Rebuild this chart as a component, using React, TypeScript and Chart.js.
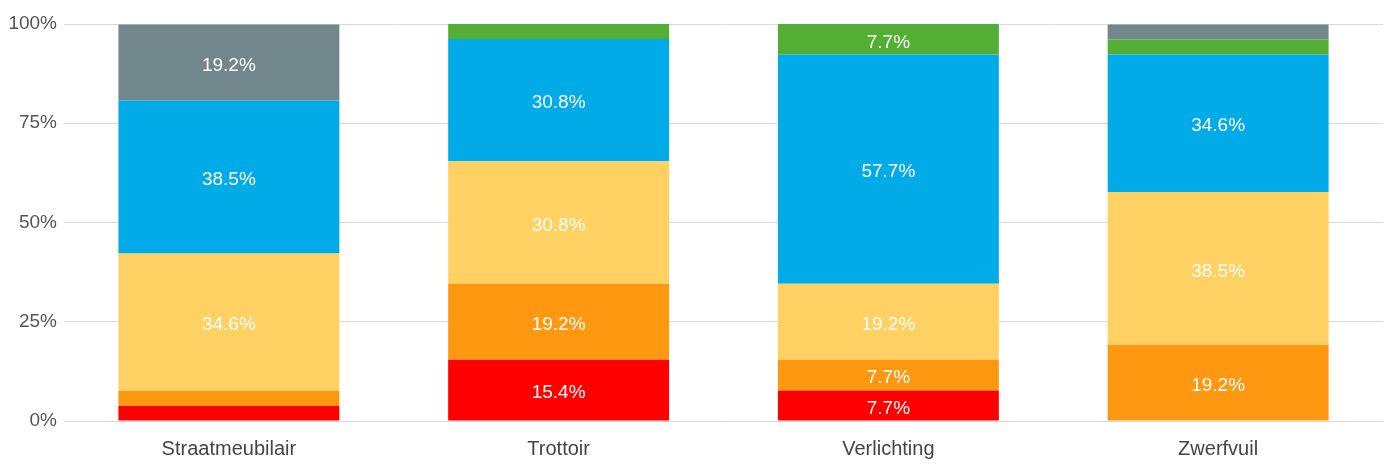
import React, { useEffect, useRef } from "react";
import { Chart, registerables } from "chart.js";

Chart.register(...registerables);

const categories = ["Straatmeubilair", "Trottoir", "Verlichting", "Zwerfvuil"];
const seriesNames = ["Zeer ontevreden", "Ontevreden", "Neutraal", "Tevreden", "Zeer tevreden", "Geen mening"];
const red = [3.8, 15.4, 7.7, 0];
const orange = [3.8, 19.2, 7.7, 19.2];
const yellow = [34.6, 30.8, 19.2, 38.5];
const blue = [38.5, 30.8, 57.7, 34.6];
const green = [0, 3.8, 7.7, 3.8];
const gray = [19.2, 0, 0, 3.8];
const colors = ["#FF0000", "#FF9811", "#FFD162", "#00ABE8", "#53AF33", "#72878B"];
const yTicks = [0, 25, 50, 75, 100];

const FONT = "'Liberation Sans', Arial, sans-serif";

const labelPlugin = {
  id: "barLabels",
  afterDatasetsDraw(chart: any) {
    const ctx = chart.ctx;
    ctx.save();
    ctx.font = `19px ${FONT}`;
    ctx.fillStyle = "#ffffff";
    ctx.textAlign = "center";
    ctx.textBaseline = "middle";
    chart.data.datasets.forEach((ds: any, di: number) => {
      const meta = chart.getDatasetMeta(di);
      meta.data.forEach((el: any, i: number) => {
        const v = ds.data[i];
        if (v >= 5) {
          const y = (el.y + el.base) / 2;
          ctx.fillText(v.toFixed(1) + "%", el.x, y + 3);
        }
      });
    });
    ctx.restore();
  },
};

export default function App() {
  const ref = useRef<HTMLCanvasElement>(null);
  useEffect(() => {
    if (!ref.current) return;
    const series = [red, orange, yellow, blue, green, gray];
    const chart = new Chart(ref.current, {
      type: "bar",
      data: {
        labels: categories,
        datasets: series.map((d, i) => ({
          label: seriesNames[i],
          data: d,
          backgroundColor: colors[i],
          borderWidth: 0,
          categoryPercentage: 1,
          barPercentage: 0.67,
        })),
      },
      options: {
        animation: false,
        responsive: false,
        maintainAspectRatio: false,
        layout: { padding: { top: 24, right: 8, left: 0, bottom: 0 } },
        plugins: { legend: { display: false }, tooltip: { enabled: false } },
        scales: {
          x: {
            stacked: true,
            grid: { display: false, drawTicks: false },
            border: { display: false },
            ticks: { color: "#444", font: { family: FONT, size: 20 }, padding: 16 },
            afterFit: (s: any) => { s.height = 43; },
          },
          y: {
            stacked: true,
            min: 0,
            max: 100,
            afterBuildTicks: (s: any) => { s.ticks = yTicks.map((v) => ({ value: v })); },
            grid: { color: "#d9d9d9", drawTicks: false, lineWidth: 1 },
            border: { display: false },
            ticks: {
              color: "#555",
              font: { family: FONT, size: 19 },
              padding: 7,
              callback: (v: any) => v + "%",
            },
            afterFit: (s: any) => { s.width = 64; },
          },
        },
      },
      plugins: [labelPlugin],
    });
    return () => chart.destroy();
  }, []);
  return (
    <div style={{ position: "fixed", left: 0, top: 0, width: 1391, height: 464, background: "#fff" }}>
      <canvas ref={ref} width={1391} height={464} style={{ width: 1391, height: 464 }} />
    </div>
  );
}
